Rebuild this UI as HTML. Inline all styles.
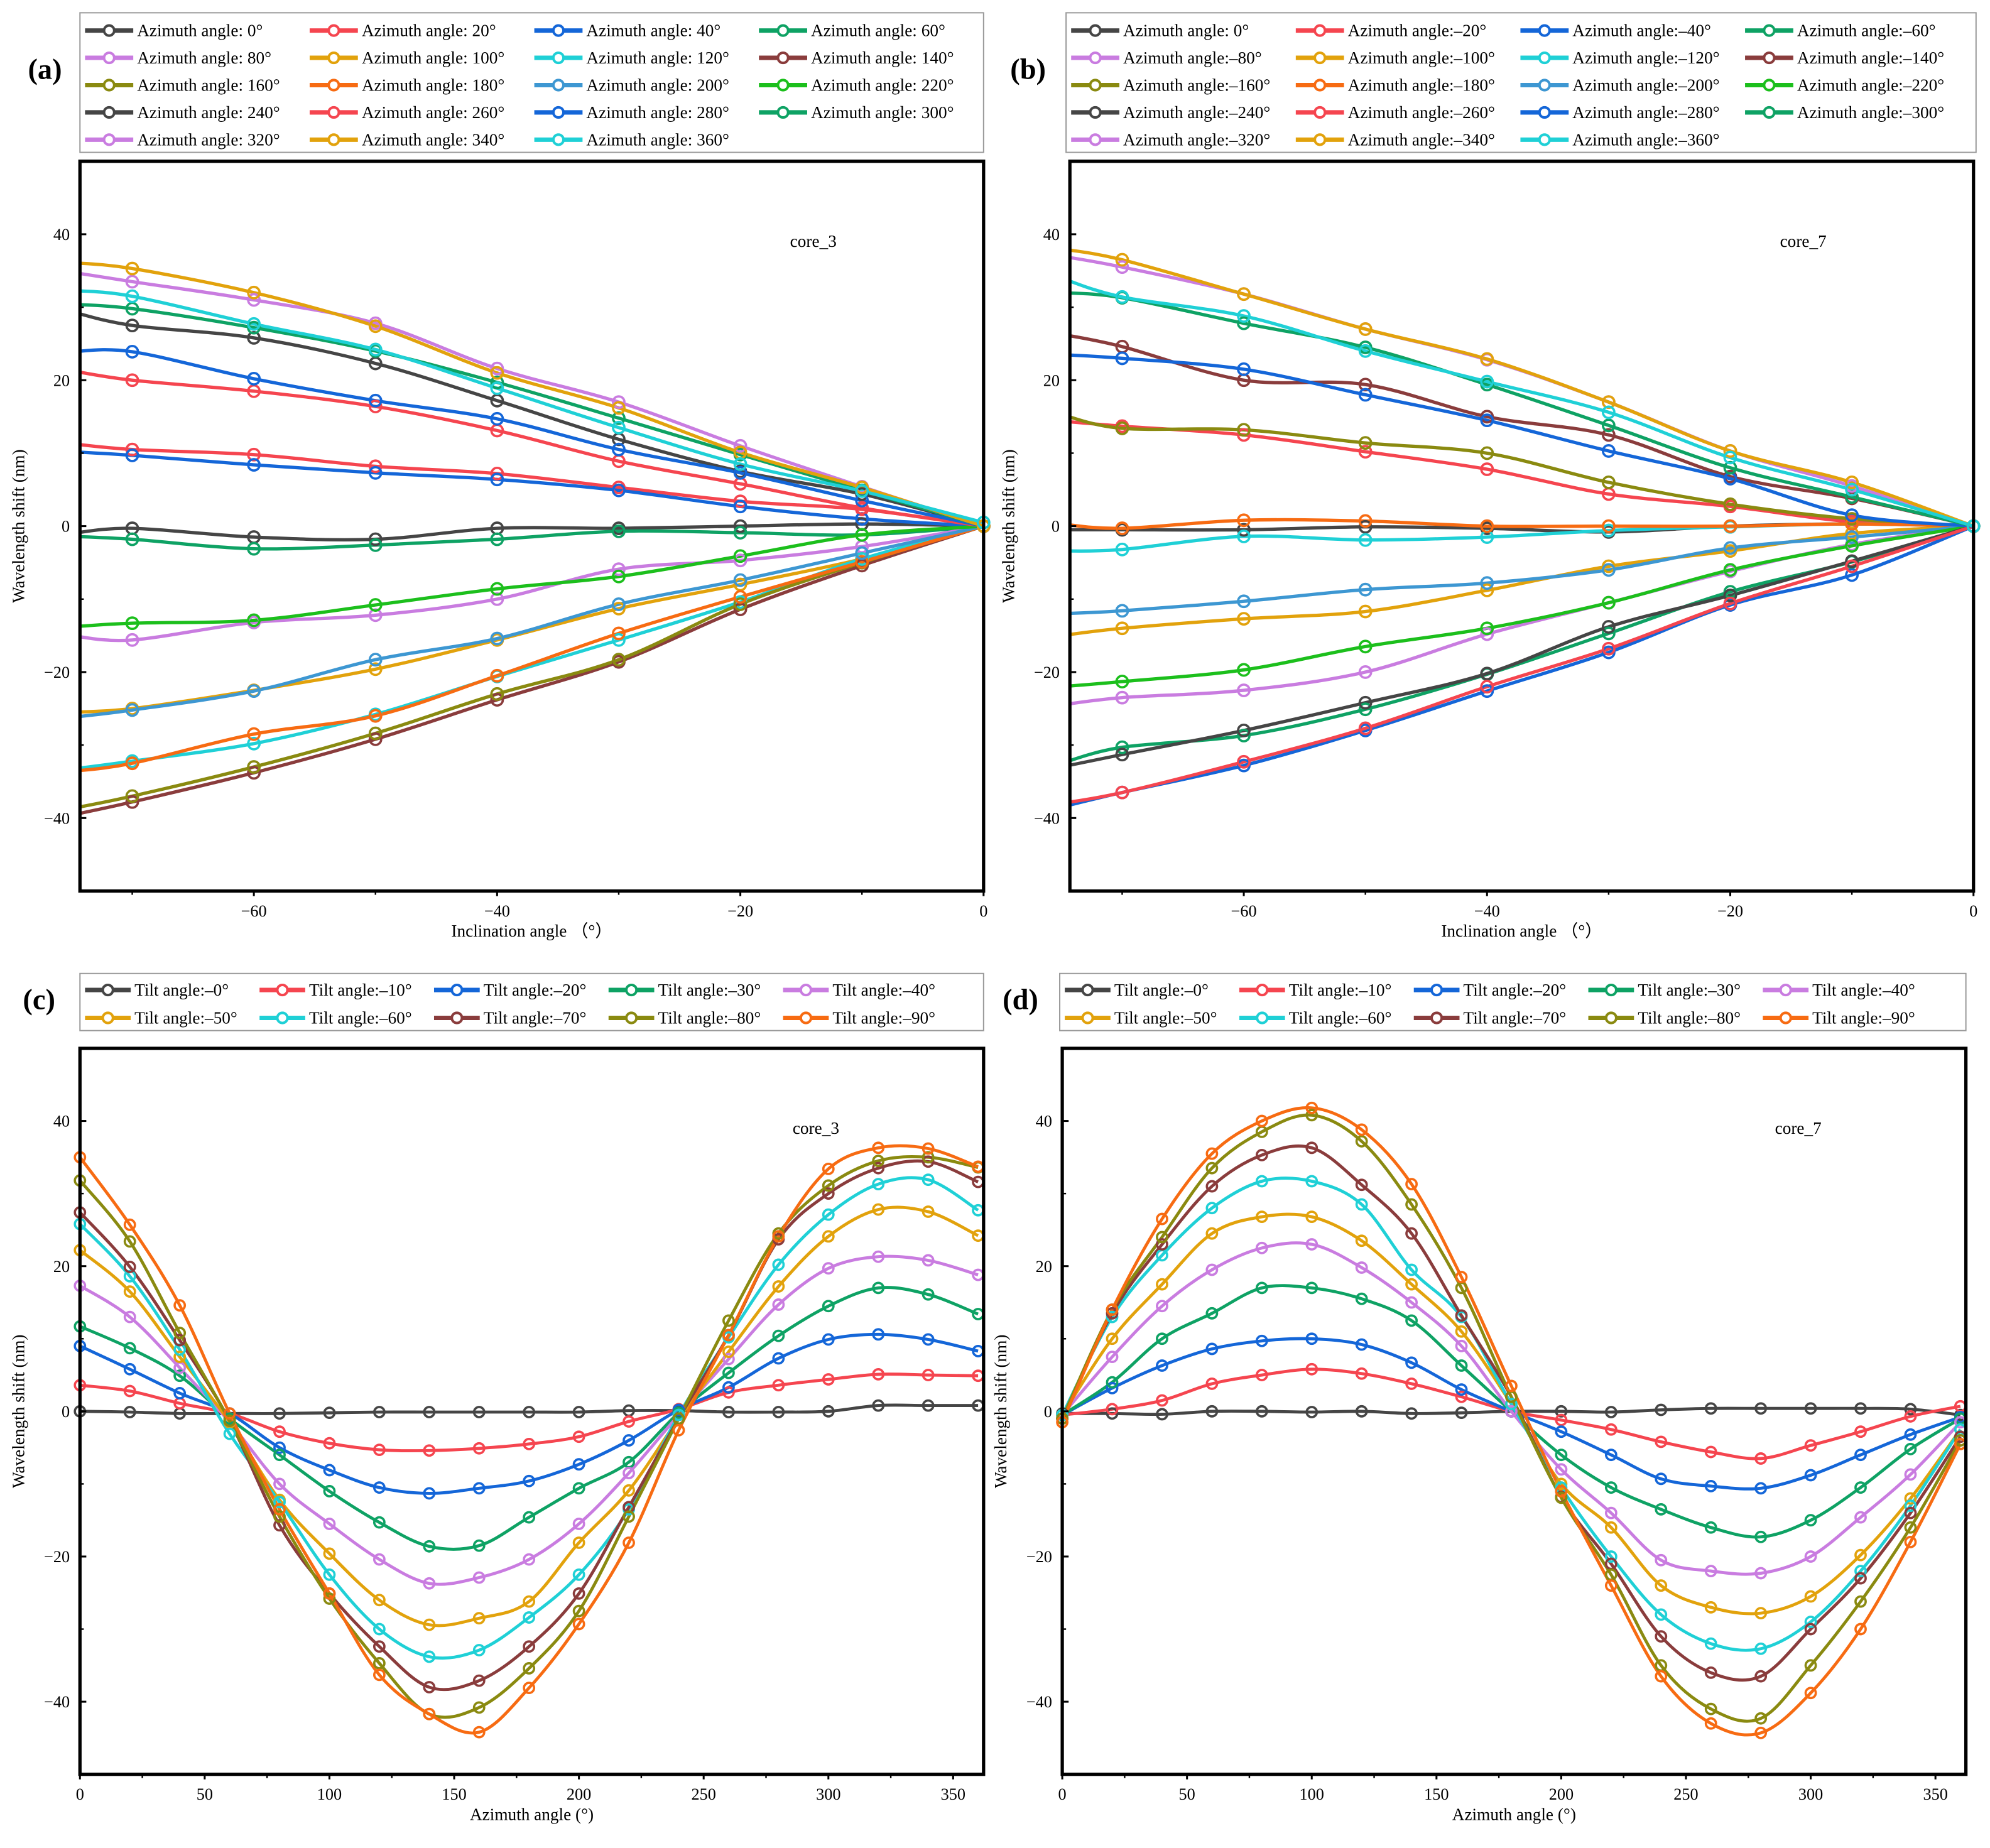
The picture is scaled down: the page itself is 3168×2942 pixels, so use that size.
<!DOCTYPE html>
<html><head><meta charset="utf-8">
<style>
html,body{margin:0;padding:0;background:#fff;}
svg{display:block;font-family:"Liberation Serif",serif;}
</style></head>
<body>
<svg id="fig" xmlns="http://www.w3.org/2000/svg" width="3168" height="2942" viewBox="0 0 1568 1456"></svg>
<script>
// ---------- data ----------
const incX = [-75,-70,-60,-50,-40,-30,-20,-10,0];
const azLabelsA = ["Azimuth angle: 0°","Azimuth angle: 20°","Azimuth angle: 40°","Azimuth angle: 60°","Azimuth angle: 80°","Azimuth angle: 100°","Azimuth angle: 120°","Azimuth angle: 140°","Azimuth angle: 160°","Azimuth angle: 180°","Azimuth angle: 200°","Azimuth angle: 220°","Azimuth angle: 240°","Azimuth angle: 260°","Azimuth angle: 280°","Azimuth angle: 300°","Azimuth angle: 320°","Azimuth angle: 340°","Azimuth angle: 360°"];
const azLabelsB = ["Azimuth angle: 0°","Azimuth angle:–20°","Azimuth angle:–40°","Azimuth angle:–60°","Azimuth angle:–80°","Azimuth angle:–100°","Azimuth angle:–120°","Azimuth angle:–140°","Azimuth angle:–160°","Azimuth angle:–180°","Azimuth angle:–200°","Azimuth angle:–220°","Azimuth angle:–240°","Azimuth angle:–260°","Azimuth angle:–280°","Azimuth angle:–300°","Azimuth angle:–320°","Azimuth angle:–340°","Azimuth angle:–360°"];
const seriesA = [
[-1,-0.3,-1.5,-1.8,-0.3,-0.3,0,0.3,0],
[11.3,10.5,9.8,8.2,7.2,5.3,3.4,2.3,0],
[10.2,9.7,8.4,7.3,6.4,4.9,2.7,1,0],
[-1.4,-1.8,-3.1,-2.6,-1.8,-0.7,-0.9,-1.2,0],
[-15,-15.6,-13.2,-12.2,-10,-5.9,-4.7,-2.8,0],
[-25.5,-25,-22.5,-19.6,-15.6,-11.3,-8,-4.5,0],
[-33.3,-32.2,-29.8,-25.8,-20.6,-15.6,-10.4,-4.5,0],
[-39.6,-37.8,-33.8,-29.2,-23.8,-18.6,-11.4,-5.4,0],
[-38.7,-37,-33,-28.4,-23,-18.3,-10.7,-5,0],
[-33.6,-32.5,-28.5,-26,-20.5,-14.7,-9.7,-4.9,0],
[-26.2,-25.2,-22.6,-18.3,-15.4,-10.7,-7.4,-3.7,0],
[-13.8,-13.3,-12.9,-10.8,-8.6,-6.9,-4.1,-1.2,0],
[29.4,27.5,25.8,22.3,17.2,11.9,7.5,4.4,0],
[21.3,20,18.5,16.4,13.1,8.9,5.8,2.5,0],
[23.9,23.9,20.2,17.2,14.7,10.5,7.3,3.5,0],
[30.4,29.8,27.2,24,19.7,14.8,9.8,4.9,0],
[34.8,33.5,31,27.8,21.6,17,11,5.4,0],
[36.1,35.3,32,27.4,21,16.2,10.1,5.3,0],
[32.3,31.5,27.7,24.2,18.9,13.5,8.5,4.8,0.5]];
const seriesB = [
[-0.5,-0.5,-0.5,-0.1,-0.3,-0.8,0,0.3,0],
[14.4,13.7,12.5,10.2,7.8,4.4,2.7,0.6,0],
[-38.5,-36.5,-32.8,-28,-22.6,-17.3,-10.8,-6.7,0],
[-32.5,-30.3,-28.7,-25.1,-20.3,-14.7,-9,-4.9,0],
[-24.5,-23.5,-22.5,-20,-14.8,-10.5,-6.2,-2.5,0],
[-15,-14,-12.7,-11.7,-8.8,-5.5,-3.4,-1,0],
[-3.4,-3.2,-1.4,-1.9,-1.5,-0.6,-0.1,0.3,0],
[26.3,24.6,20,19.4,15,12.5,6.8,3.8,0],
[15.3,13.4,13.2,11.4,10,6,3,1,0],
[0.3,-0.3,0.8,0.7,0,0,0,0.3,0],
[-12,-11.6,-10.3,-8.7,-7.8,-6,-3,-1.5,0],
[-22,-21.3,-19.7,-16.5,-14,-10.5,-6,-2.7,0],
[-33,-31.3,-28,-24.2,-20.2,-13.8,-9.5,-4.8,0],
[-38,-36.5,-32.3,-27.7,-22,-16.8,-10.6,-5.5,0],
[23.5,23,21.5,18,14.5,10.3,6.5,1.5,0],
[32,31.3,27.8,24.5,19.4,13.8,8,4,0],
[37,35.5,31.8,27,22.8,17,10.3,5.5,0],
[38,36.5,31.8,27,22.9,17,10.3,6,0],
[34,31.4,28.8,24,19.8,15.6,9.4,5,0]];
const azX = [0,20,40,60,80,100,120,140,160,180,200,220,240,260,280,300,320,340,360];
const tiltLabels = ["Tilt angle:–0°","Tilt angle:–10°","Tilt angle:–20°","Tilt angle:–30°","Tilt angle:–40°","Tilt angle:–50°","Tilt angle:–60°","Tilt angle:–70°","Tilt angle:–80°","Tilt angle:–90°"];
const seriesC = [
[0,-0.1,-0.3,-0.3,-0.3,-0.2,-0.1,-0.1,-0.1,-0.1,-0.1,0.1,0.1,-0.1,-0.1,0,0.8,0.8,0.8],
[3.6,2.8,1.1,-0.3,-2.8,-4.4,-5.3,-5.4,-5.1,-4.5,-3.5,-1.4,0.3,2.6,3.6,4.4,5.1,5,4.9],
[9,5.8,2.5,-0.3,-5,-8.1,-10.5,-11.3,-10.6,-9.6,-7.3,-4,0.2,3.3,7.3,9.9,10.6,9.9,8.3],
[11.7,8.7,4.9,-1,-6,-11,-15.3,-18.6,-18.5,-14.6,-10.6,-7,-0.2,5.3,10.4,14.5,17,16.1,13.4],
[17.3,13,6,-1.5,-10,-15.5,-20.4,-23.7,-22.9,-20.4,-15.5,-8.5,-0.5,7.2,14.7,19.7,21.3,20.8,18.8],
[22.2,16.5,7.5,-1.5,-12.2,-19.6,-26,-29.4,-28.5,-26.2,-18.1,-10.9,-1,8.2,17.2,24.1,27.8,27.5,24.2],
[25.8,18.6,8.5,-3.1,-12.5,-22.5,-30,-33.8,-32.9,-28.4,-22.5,-13.5,-0.5,10.2,20.2,27.1,31.3,31.9,27.7],
[27.4,19.9,9.8,-1.3,-15.7,-25.1,-32.4,-38,-37.1,-32.4,-25.1,-13.2,-1,10.5,23.7,30,33.5,34.4,31.6],
[31.8,23.4,10.8,-1.3,-14.5,-25.8,-34.7,-41.7,-40.8,-35.4,-27.5,-14.5,-1,12.5,24.5,31.1,34.5,35,33.6],
[35,25.7,14.6,-0.3,-13.5,-25.1,-36.3,-41.7,-44.2,-38.1,-29.3,-18.1,-2.6,10.5,24.1,33.4,36.3,36.2,33.7]];
const seriesD = [
[-0.3,-0.3,-0.4,0,0,-0.1,0,-0.3,-0.2,0,0,-0.1,0.2,0.4,0.4,0.4,0.4,0.3,-0.5],
[-0.5,0.3,1.5,3.8,5,5.8,5.2,3.8,2,0,-1.2,-2.5,-4.2,-5.6,-6.5,-4.7,-2.8,-0.7,0.7],
[-0.5,3.2,6.3,8.6,9.7,10,9.2,6.7,3,0,-2.8,-6,-9.3,-10.3,-10.6,-8.8,-6,-3.2,-0.8],
[-0.5,4,10,13.5,17,17,15.5,12.5,6.3,0,-6,-10.5,-13.5,-16,-17.3,-15,-10.5,-5.2,-1],
[-0.5,7.5,14.5,19.5,22.5,23,19.8,15,9,0,-8,-14,-20.5,-22,-22.3,-20,-14.6,-8.7,-1.5],
[-0.5,10,17.5,24.5,26.8,26.8,23.5,17.5,11,1,-10,-16,-24,-27,-27.8,-25.5,-19.8,-12,-2.5],
[-0.5,13,21.5,28,31.7,31.7,28.5,19.5,13,1,-10.5,-20,-28,-32,-32.7,-29,-22,-13,-2.5],
[-1,13.5,23,31,35.3,36.3,31.2,24.5,13.2,2,-11.8,-21,-31,-36,-36.5,-30,-23,-14,-3.5],
[-1,14,24,33.5,38.5,40.8,37.2,28.5,17,2,-11.9,-22.5,-35,-41,-42.3,-35,-26.2,-16,-4],
[-1.5,14,26.5,35.5,40,41.8,38.8,31.3,18.5,3.5,-11,-24,-36.5,-43,-44.3,-38.8,-30,-18,-4.5]];
const yTicks = [-40,-20,0,20,40];
const incTicks = [-60,-40,-20,0];
const azTicks = [0,50,100,150,200,250,300,350];

const PAL = {gray:"#454545",red:"#f5454f",blue:"#1466d8",green:"#0ea264",violet:"#c97ce0",gold:"#e2a20c",cyan:"#1fd0d6",brown:"#8a3c3c",olive:"#8a8a10",orange:"#f76b12",steel:"#3d97d2",lime:"#1cbf1c"};
const colsAB = [PAL.gray,PAL.red,PAL.blue,PAL.green,PAL.violet,PAL.gold,PAL.cyan,PAL.brown,PAL.olive,PAL.orange,PAL.steel,PAL.lime,PAL.gray,PAL.red,PAL.blue,PAL.green,PAL.violet,PAL.gold,PAL.cyan];
const colsCD = [PAL.gray,PAL.red,PAL.blue,PAL.green,PAL.violet,PAL.gold,PAL.cyan,PAL.brown,PAL.olive,PAL.orange];

const NS="http://www.w3.org/2000/svg";
const svg=document.getElementById("fig");
function mk(tag,attrs,parent){const e=document.createElementNS(NS,tag);for(const k in attrs)e.setAttribute(k,attrs[k]);(parent||svg).appendChild(e);return e;}
function smooth(pts){let d="M"+pts[0][0]+","+pts[0][1];for(let i=0;i<pts.length-1;i++){const p0=pts[i-1]||pts[i],p1=pts[i],p2=pts[i+1],p3=pts[i+2]||p2;const c1=[p1[0]+(p2[0]-p0[0])/6,p1[1]+(p2[1]-p0[1])/6],c2=[p2[0]-(p3[0]-p1[0])/6,p2[1]-(p3[1]-p1[1])/6];d+=" C"+c1[0]+","+c1[1]+" "+c2[0]+","+c2[1]+" "+p2[0]+","+p2[1];}return d;}

function panel(o){
  const g=mk("g",{});
  
  
  const X=v=>o.x0+(v-o.xmin)/(o.xmax-o.xmin)*(o.x1-o.x0);
  const Y=v=>o.y1-(v+50)/100*(o.y1-o.y0);
  // panel letter
  const pl=mk("text",{x:o.lx,y:o.ly,"font-size":23,"font-weight":"bold"},g);pl.textContent=o.letter;
  
  
  // legend
  const lg=mk("g",{},g);
  
  
  mk("rect",{x:o.leg.x,y:o.leg.y,width:o.leg.w,height:o.leg.h,fill:"#fff",stroke:"#9a9a9a","stroke-width":1},lg);
  o.labels.forEach((lab,i)=>{
    const c=i%o.leg.ncol,r=Math.floor(i/o.leg.ncol);
    const ex=o.leg.x+4+c*o.leg.cw, ey=o.leg.y+o.leg.r0+r*o.leg.rh;
    const en=mk("g",{},lg);
    
    
    mk("line",{x1:ex,y1:ey,x2:ex+o.leg.ll,y2:ey,stroke:o.cols[i],"stroke-width":3.5},en);
    mk("circle",{cx:ex+o.leg.ll/2,cy:ey,r:4,fill:"#fff",stroke:o.cols[i],"stroke-width":2},en);
    const t=mk("text",{x:ex+o.leg.ll+3,y:ey+4.5,"font-size":o.leg.fs},en);t.textContent=lab;
  });
  // clip
  const cp=mk("clipPath",{id:"clip"+o.id},g);mk("rect",{x:o.x0,y:o.y0,width:o.x1-o.x0,height:o.y1-o.y0},cp);
  const sg=mk("g",{"clip-path":"url(#clip"+o.id+")"},g);
  o.series.forEach((s,i)=>{
    const pts=s.map((v,j)=>[X(o.xs[j]),Y(v)]);
    const p=mk("path",{d:smooth(pts),fill:"none",stroke:o.cols[i],"stroke-width":o.lw},sg);
    
    
  });
  o.series.forEach((s,i)=>{
    s.forEach((v,j)=>{
      if(o.xs[j]<o.xmin)return;
      const c=mk("circle",{cx:X(o.xs[j]),cy:Y(v),r:o.mr,fill:"none",stroke:o.cols[i],"stroke-width":1.8},g);
      
      
    });
  });
  // frame
  const fr=mk("rect",{x:o.x0,y:o.y0,width:o.x1-o.x0,height:o.y1-o.y0,fill:"none",stroke:"#000","stroke-width":2.6},g);
  
  
  // y ticks
  const ya=mk("g",{},g);
  
  
  yTicks.forEach(v=>{mk("line",{x1:o.x0,y1:Y(v),x2:o.x0+5,y2:Y(v),stroke:"#000","stroke-width":1.5},ya);
    const t=mk("text",{x:o.x0-8,y:Y(v)+4.5,"font-size":13,"text-anchor":"end"},ya);t.textContent=v<0?"−"+(-v):v;});
  [-30,-10,10,30].forEach(v=>mk("line",{x1:o.x0,y1:Y(v),x2:o.x0+3,y2:Y(v),stroke:"#000","stroke-width":1.2},ya));
  const yt=mk("text",{x:0,y:0,"font-size":13.5,"text-anchor":"middle",transform:"translate("+(o.x0-44)+","+((o.y0+o.y1)/2)+") rotate(-90)"},ya);yt.textContent="Wavelength shift (nm)";
  
  
  // x ticks
  const xa=mk("g",{},g);
  
  
  o.xticks.forEach(v=>{mk("line",{x1:X(v),y1:o.y1,x2:X(v),y2:o.y1+4,stroke:"#000","stroke-width":1.5},xa);
    const t=mk("text",{x:X(v),y:o.y1+20,"font-size":13,"text-anchor":"middle"},xa);t.textContent=v<0?"−"+(-v):v;});
  o.minor.forEach(v=>mk("line",{x1:X(v),y1:o.y1,x2:X(v),y2:o.y1+3,stroke:"#000","stroke-width":1.2},xa));
  const xt=mk("text",{x:(o.x0+o.x1)/2,y:o.y1+36,"font-size":13.5,"text-anchor":"middle"},xa);xt.textContent=o.xtitle;
  
  
  const ct=mk("text",{x:X(o.corex),y:Y(40)+10,"font-size":13.5,"text-anchor":"middle"},g);ct.textContent=o.core;
  
  
}
const legAB={ncol:4,cw:177,r0:14,rh:21.5,ll:38,fs:13.5,h:110,y:10};
panel({id:"a",letter:"(a)",lx:22,ly:62,x0:63,x1:775,y0:127,y1:702,xmin:-74.3,xmax:0,xs:incX,series:seriesA,labels:azLabelsA,cols:colsAB,
  leg:Object.assign({x:63,w:712},legAB),xticks:incTicks,minor:[-70,-50,-30,-10],xtitle:"Inclination angle （°）",core:"core_3",corex:-14,lw:2.6,mr:4.5});
panel({id:"b",letter:"(b)",lx:796,ly:62,x0:843,x1:1555,y0:127,y1:702,xmin:-74.3,xmax:0,xs:incX,series:seriesB,labels:azLabelsB,cols:colsAB,
  leg:Object.assign({x:840,w:717},legAB),xticks:incTicks,minor:[-70,-50,-30,-10],xtitle:"Inclination angle （°）",core:"core_7",corex:-14,lw:2.6,mr:4.5});
const legCD={ncol:5,cw:137.5,r0:13,rh:22,ll:36,fs:13.5,h:45,y:767};
panel({id:"c",letter:"(c)",lx:18,ly:795,x0:63,x1:775,y0:826,y1:1398,xmin:0,xmax:362.2,xs:azX,series:seriesC,labels:tiltLabels,cols:colsCD,
  leg:Object.assign({x:63,w:712},legCD),xticks:azTicks,minor:[25,75,125,175,225,275,325],xtitle:"Azimuth angle (°)",core:"core_3",corex:295,lw:2.4,mr:4});
panel({id:"d",letter:"(d)",lx:790,ly:795,x0:837,x1:1549,y0:826,y1:1398,xmin:0,xmax:362.2,xs:azX,series:seriesD,labels:tiltLabels,cols:colsCD,
  leg:Object.assign({x:835,w:714},legCD),xticks:azTicks,minor:[25,75,125,175,225,275,325],xtitle:"Azimuth angle (°)",core:"core_7",corex:295,lw:2.4,mr:4});
</script>
</body></html>
